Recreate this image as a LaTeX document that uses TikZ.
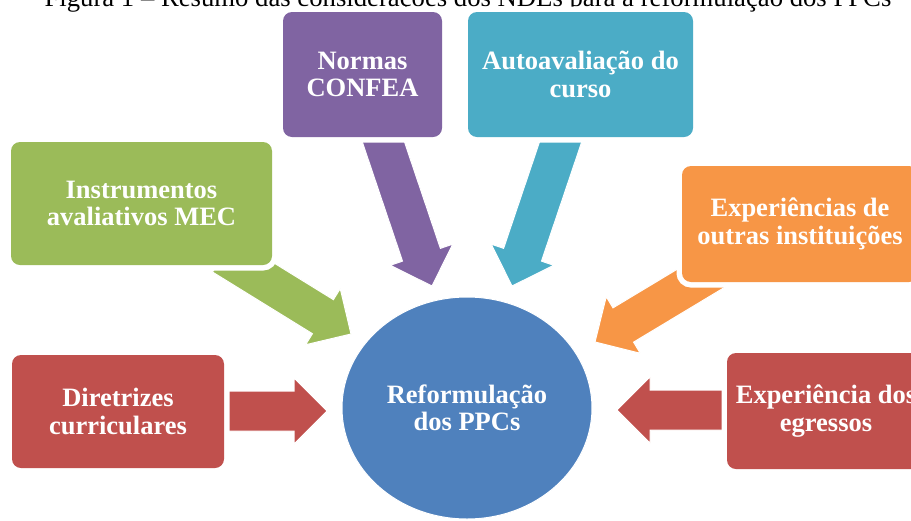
\documentclass[tikz,border=0pt]{standalone}
\usepackage{fontspec}
\setmainfont{Liberation Serif}
\usetikzlibrary{calc,shapes.geometric}
\definecolor{cpurple}{HTML}{8064A2}
\definecolor{cteal}{HTML}{4BACC6}
\definecolor{cgreen}{HTML}{9BBB59}
\definecolor{corange}{HTML}{F79646}
\definecolor{cred}{HTML}{C0504D}
\definecolor{cblue}{HTML}{4F81BD}
\newcommand\diagboxfont{\fontsize{26.5}{27.5}\selectfont\bfseries}
\newcommand\blockarrow[3]{%
  \coordinate (#1h) at ($(#2)!33pt!(#1)$);
  \filldraw[fill=#3, draw=white, line width=1pt, line join=miter]
    ($(#1)!20pt!90:(#2)$) -- ($(#1h)!20pt!-90:(#1)$) -- ($(#1h)!33pt!-90:(#1)$)
    -- (#2) -- ($(#1h)!33pt!90:(#1)$) -- ($(#1h)!20pt!90:(#1)$)
    -- ($(#1)!20pt!-90:(#2)$) -- cycle;}
\tikzset{
  diagbox/.style={rectangle, rounded corners=9pt, inner sep=0pt, align=center,
    text=white, font=\diagboxfont, preaction={draw=white, line width=11pt}},
}
\begin{document}
\begin{tikzpicture}[x=1pt,y=-1pt]
\useasboundingbox (0,0) rectangle (911,520);
\fill[white] (0,0) rectangle (911,520);
% title (clipped at the top of the picture)
\node[anchor=base, inner sep=0pt, font=\fontsize{26.7}{30}\selectfont] (title) at (468,6.5)
  {Figura 1 -- Resumo das considerações dos NDEs para a reformulação dos PPCs};
% arrow end points
\coordinate (pS) at (376,120);  \coordinate (pT) at (432,286);
\coordinate (tS) at (568,120);  \coordinate (tT) at (512,286);
\coordinate (gS) at (223,255);  \coordinate (gT) at (351,334);
\coordinate (oS) at (723,265);  \coordinate (oT) at (595,342);
\coordinate (lS) at (150,411);  \coordinate (lT) at (327,411);
\coordinate (rS) at (800,410);  \coordinate (rT) at (617,410);
\blockarrow{pS}{pT}{cpurple}
\blockarrow{tS}{tT}{cteal}
\blockarrow{gS}{gT}{cgreen}
\blockarrow{oS}{oT}{corange}
\blockarrow{lS}{lT}{cred}
\blockarrow{rS}{rT}{cred}
% boxes
\node[diagbox, fill=cpurple, minimum width=159, minimum height=125] (normas) at (362.5,74.5) {Normas\\CONFEA};
\node[diagbox, fill=cteal, minimum width=225, minimum height=125] (auto) at (580.5,74.5) {Autoavaliação do\\curso};
\node[diagbox, fill=cgreen, minimum width=261, minimum height=123] (instr) at (141.5,203.5) {Instrumentos\\avaliativos MEC};
\node[diagbox, fill=corange, minimum width=236, minimum height=116] (outras) at (800,224) {Experiências de\\outras instituições};
\node[diagbox, fill=cred, minimum width=212, minimum height=113] (diretr) at (118,411.5) {Diretrizes\\curriculares};
\node[diagbox, fill=cred, minimum width=198, minimum height=116] (egres) at (826,411) {Experiência dos\\egressos};
% centre
\node[ellipse, fill=cblue, draw=white, line width=1pt, minimum width=250, minimum height=222, inner sep=0pt,
  align=center, text=white, font=\diagboxfont] (ppc) at (467,408) {Reformulação\\dos PPCs};
\end{tikzpicture}
\end{document}
